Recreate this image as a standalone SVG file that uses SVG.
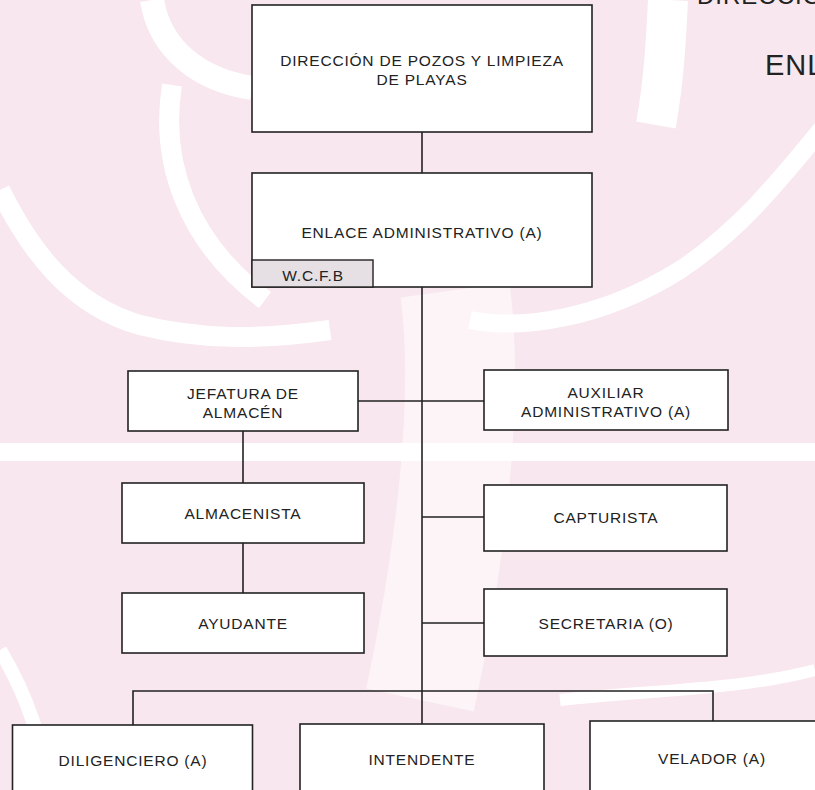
<svg xmlns="http://www.w3.org/2000/svg" width="815" height="790" viewBox="0 0 815 790">
<style>
.box{fill:#ffffff;stroke:#222222;stroke-width:1.6}
.tag{fill:#e6e0e4;stroke:#222222;stroke-width:1.4}
.lbl{font-family:"Liberation Sans",Arial,sans-serif;font-size:15.5px;letter-spacing:0.8px;fill:#222222;text-anchor:middle}
.conn{fill:none;stroke:#222222;stroke-width:1.6}
.wb{fill:none;stroke:#ffffff;stroke-linecap:butt}
.big{font-family:"Liberation Sans",Arial,sans-serif;fill:#222222}
</style>
<g id="background">
  <rect x="0" y="0" width="815" height="790" fill="#f8e7ee"/>
  <path class="wb" d="M152,0 C160,50 200,80 252,88" stroke-width="24"/>
  <path class="wb" d="M172,85 C160,160 185,240 265,300" stroke-width="20"/>
  <path class="wb" d="M0,190 C30,250 70,305 140,325 C200,340 260,340 330,330" stroke-width="20"/>
  <path class="wb" d="M668,0 C666,40 664,80 656,125" stroke-width="40"/>
  <path class="wb" d="M825,125 C780,180 740,230 680,270 C600,320 520,330 470,320" stroke-width="18"/>
  <rect x="0" y="443" width="815" height="18" fill="#ffffff"/>
  <path class="wb" d="M455,290 C470,400 450,560 420,700" stroke-width="110" stroke-opacity="0.55"/>
  <path class="wb" d="M560,700 C650,690 740,690 815,670" stroke-width="12"/>
  <path class="wb" d="M0,650 C30,700 40,740 50,790" stroke-width="14"/>
</g>
<g id="title-partial">
  <text class="big" x="697" y="4" font-size="24" letter-spacing="1">DIRECCIÓN</text>
  <text class="big" x="765" y="75" font-size="29" letter-spacing="1">ENL</text>
</g>
<g id="connectors">
  <path class="conn" d="M422,132 V173"/>
  <path class="conn" d="M422,287 V724"/>
  <path class="conn" d="M358,401 H484"/>
  <path class="conn" d="M243,431 V483"/>
  <path class="conn" d="M243,543 V593"/>
  <path class="conn" d="M422,517 H484"/>
  <path class="conn" d="M422,623 H484"/>
  <path class="conn" d="M133,725 V691 H713 V721"/>
</g>
<g id="n-direccion">
  <rect class="box" x="252" y="5" width="340" height="127"/>
  <text class="lbl" x="422" y="66">DIRECCIÓN DE POZOS Y LIMPIEZA</text>
  <text class="lbl" x="422" y="85">DE PLAYAS</text>
</g>
<g id="n-enlace">
  <rect class="box" x="252" y="173" width="340" height="114"/>
  <text class="lbl" x="422" y="238">ENLACE ADMINISTRATIVO (A)</text>
  <rect class="tag" x="252" y="260" width="121" height="27"/>
  <text class="lbl" x="313" y="281">W.C.F.B</text>
</g>
<g id="n-jefatura">
  <rect class="box" x="128" y="371" width="230" height="60"/>
  <text class="lbl" x="243" y="399">JEFATURA DE</text>
  <text class="lbl" x="243" y="418">ALMACÉN</text>
</g>
<g id="n-auxiliar">
  <rect class="box" x="484" y="370" width="244" height="60"/>
  <text class="lbl" x="606" y="398">AUXILIAR</text>
  <text class="lbl" x="606" y="417">ADMINISTRATIVO (A)</text>
</g>
<g id="n-almacenista">
  <rect class="box" x="122" y="483" width="242" height="60"/>
  <text class="lbl" x="243" y="519">ALMACENISTA</text>
</g>
<g id="n-capturista">
  <rect class="box" x="484" y="485" width="243" height="66"/>
  <text class="lbl" x="606" y="523">CAPTURISTA</text>
</g>
<g id="n-ayudante">
  <rect class="box" x="122" y="593" width="242" height="60"/>
  <text class="lbl" x="243" y="629">AYUDANTE</text>
</g>
<g id="n-secretaria">
  <rect class="box" x="484" y="589" width="243" height="67"/>
  <text class="lbl" x="606" y="629">SECRETARIA (O)</text>
</g>
<g id="n-diligenciero">
  <rect class="box" x="12.5" y="725" width="240" height="80"/>
  <text class="lbl" x="133" y="766">DILIGENCIERO (A)</text>
</g>
<g id="n-intendente">
  <rect class="box" x="300" y="724" width="244" height="80"/>
  <text class="lbl" x="422" y="765">INTENDENTE</text>
</g>
<g id="n-velador">
  <rect class="box" x="590" y="721" width="250" height="80"/>
  <text class="lbl" x="712" y="764">VELADOR (A)</text>
</g>
</svg>
